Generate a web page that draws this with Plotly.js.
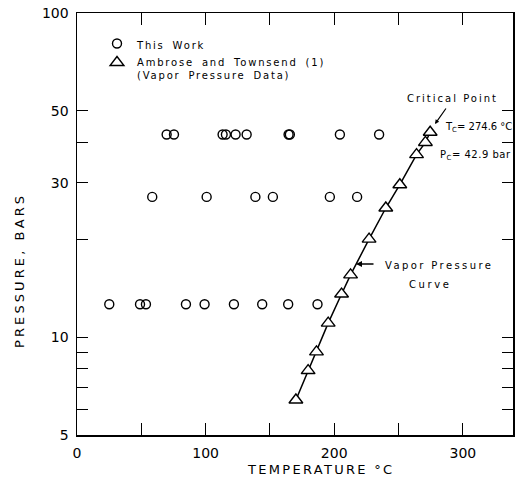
<!DOCTYPE html>
<html><head><meta charset="utf-8">
<script src="https://cdn.plot.ly/plotly-3.0.1.min.js"></script>
<style>
body{margin:0;background:#fff;}
#plot{width:516px;height:477px;}
.legendtext{letter-spacing:1.8px; word-spacing:3px;}
.annotation-text{letter-spacing:1.6px;}
</style>
</head><body><div id="plot"></div>
<script>
// This Work (three isobars)
const thisWorkT = [69.7, 75.4, 113.2, 115.8, 123.3, 131.9, 164.5, 165.5, 204.4, 234.9,
                   58.5, 100.8, 138.7, 152.3, 196.6, 217.8,
                   25.1, 49.0, 53.6, 84.7, 99.2, 122.0, 144.0, 164.2, 187.0];
const thisWorkP = [42.2, 42.2, 42.2, 42.2, 42.2, 42.2, 42.2, 42.2, 42.2, 42.2,
                   27.1, 27.1, 27.1, 27.1, 27.1, 27.1,
                   12.65, 12.65, 12.65, 12.65, 12.65, 12.65, 12.65, 12.65, 12.65];
// Ambrose and Townsend vapor pressure data
const vaporT = [170.2, 179.7, 186.2, 195.3, 205.7, 212.7, 227.1, 240.1, 251.0, 264.0, 270.9, 274.6];
const vaporP = [6.41, 7.90, 9.02, 11.06, 13.6, 15.58, 20.09, 25.05, 29.55, 36.6, 39.9, 42.9];
// Axis ticks
const xTickVals = [0, 50, 100, 150, 200, 250, 300];
const xTickText = ['0', '', '100', '', '200', '', '300'];
const yTickVals = [5, 10, 30, 50, 100];
const yTickText = ['5', '10', '30', '50', '100'];
const yMinorVals = [6, 7, 8, 9, 20, 40];

const FONT = 'DejaVu Sans, sans-serif';

const traces = [
  {x: vaporT, y: vaporP, mode: 'lines', line: {color: '#000', width: 1.5}, showlegend: false, hoverinfo: 'skip'},
  {x: thisWorkT, y: thisWorkP, mode: 'markers', name: 'This Work',
   marker: {symbol: 'circle-open', size: 9, color: '#000', line: {width: 1.4, color: '#000'}}},
  {x: vaporT, y: vaporP, mode: 'markers', name: 'Ambrose and Townsend (1)<br>(Vapor Pressure Data)',
   marker: {symbol: 'triangle-up', size: 12, color: '#fff', line: {width: 1.4, color: '#000'}}}
];

const px = v => (v - 77) / 436;
const py = v => (435 - v) / 422;
const annFont = {family: FONT, size: 10, color: '#000'};
const sp = (t, s) => '<span style="letter-spacing:' + s + 'px">' + t + '</span>';

const layout = {
  width: 516, height: 477,
  margin: {l: 77, r: 3, t: 13, b: 42},
  paper_bgcolor: '#fff', plot_bgcolor: '#fff',
  font: {family: FONT, color: '#000'},
  showlegend: true,
  legend: {x: px(97), y: py(30.5), xanchor: 'left', yanchor: 'top', bgcolor: 'rgba(0,0,0,0)', valign: 'top',
           font: {family: FONT, size: 10, color: '#000'}, tracegroupgap: 0},
  xaxis: {range: [0, 339], tickmode: 'array', tickvals: xTickVals, ticktext: xTickText,
          ticks: 'inside', ticklen: 12, tickwidth: 1, tickcolor: '#000',
          showline: true, linecolor: '#000', linewidth: 1.5, mirror: 'ticks',
          showgrid: false, zeroline: false, tickfont: {family: FONT, size: 14, color: '#000'},
          ticklabelstandoff: 5},
  yaxis: {type: 'log', range: [Math.log10(5), 2], tickmode: 'array', tickvals: yTickVals, ticktext: yTickText,
          ticks: 'inside', ticklen: 11, tickwidth: 1, tickcolor: '#000',
          minor: {tickmode: 'array', tickvals: yMinorVals, ticks: 'inside', ticklen: 11, tickcolor: '#000', tickwidth: 1},
          showline: true, linecolor: '#000', linewidth: 1.5, mirror: 'ticks',
          showgrid: false, zeroline: false, tickfont: {family: FONT, size: 14, color: '#000'},
          ticklabelstandoff: 4},
  shapes: [
    {type: 'line', xref: 'x', yref: 'y', x0: 0, x1: 24, y0: 1, y1: 1, line: {color: '#000', width: 1.2}}
  ],
  annotations: [
    {xref: 'paper', yref: 'paper', x: px(320), y: py(470), text: sp('TEMPERATURE °C', 2.3), showarrow: false,
     xanchor: 'center', yanchor: 'middle', font: {family: FONT, size: 13, color: '#000'}},
    {xref: 'paper', yref: 'paper', x: px(19), y: py(271), text: sp('PRESSURE, BARS', 3.1), showarrow: false, textangle: -90,
     xanchor: 'center', yanchor: 'middle', font: {family: FONT, size: 13, color: '#000'}},
    {xref: 'paper', yref: 'paper', x: px(405), y: py(98), text: sp('Critical Point', 2.0), showarrow: false,
     xanchor: 'left', yanchor: 'middle', font: annFont},
    {xref: 'paper', yref: 'paper', x: px(443), y: py(127), text: sp('T<sub>C</sub>= 274.6 °C', 0), showarrow: false,
     xanchor: 'left', yanchor: 'middle', font: annFont},
    {xref: 'paper', yref: 'paper', x: px(438), y: py(155), text: sp('P<sub>C</sub>= 42.9 bar', 0.5), showarrow: false,
     xanchor: 'left', yanchor: 'middle', font: annFont},
    {xref: 'paper', yref: 'paper', x: px(383), y: py(265), text: sp('Vapor Pressure', 2.4), showarrow: false,
     xanchor: 'left', yanchor: 'middle', font: annFont},
    {xref: 'paper', yref: 'paper', x: px(407), y: py(284), text: sp('Curve', 2.6), showarrow: false,
     xanchor: 'left', yanchor: 'middle', font: annFont},
    {xref: 'paper', yref: 'paper', x: px(435), y: py(124), text: '', showarrow: true,
     ax: 12, ay: -17, arrowhead: 2, arrowsize: 0.7, arrowwidth: 1.2, arrowcolor: '#000', standoff: 0},
    {xref: 'paper', yref: 'paper', x: px(356), y: py(264), text: '', showarrow: true,
     ax: 19, ay: 0, arrowhead: 2, arrowsize: 0.8, arrowwidth: 1.5, arrowcolor: '#000', standoff: 0}
  ]
};

Plotly.newPlot('plot', traces, layout, {displayModeBar: false, staticPlot: true});
</script></body></html>
